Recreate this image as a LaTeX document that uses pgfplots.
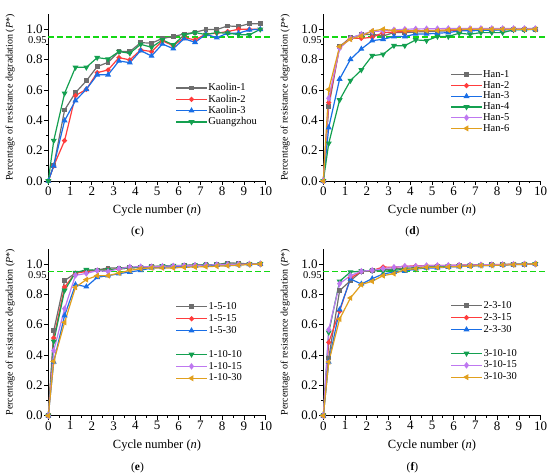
\documentclass[border=0pt]{standalone}
\usepackage{fontspec}
\setmainfont{Liberation Serif}
\usepackage{pgfplots}
\usepackage{pgfplotstable}
\pgfplotsset{compat=1.18}

\definecolor{cgray}{RGB}{110,110,110}
\definecolor{cred}{RGB}{255,60,60}
\definecolor{cblue}{RGB}{25,110,230}
\definecolor{cgreen}{RGB}{20,160,80}
\definecolor{cviolet}{RGB}{190,120,240}
\definecolor{corange}{RGB}{225,160,30}
\definecolor{cdash}{RGB}{20,215,20}

\pgfplotstableread{
x    a     b     c     d
0    0     0     0     0
0.25 0.10  0.10  0.10  0.266
0.75 0.468 0.266 0.398 0.578
1.25 0.582 0.563 0.530 0.749
1.75 0.660 0.604 0.604 0.749
2.25 0.754 0.714 0.700 0.813
2.75 0.782 0.732 0.700 0.804
3.25 0.853 0.813 0.791 0.853
3.75 0.853 0.798 0.780 0.842
4.25 0.912 0.864 0.859 0.901
4.75 0.908 0.853 0.824 0.881
5.25 0.940 0.923 0.903 0.930
5.75 0.952 0.892 0.872 0.897
6.25 0.969 0.945 0.938 0.963
6.75 0.980 0.930 0.914 0.978
7.25 0.998 0.969 0.967 0.965
7.75 0.998 0.974 0.945 0.978
8.25 1.022 0.985 0.974 0.974
8.75 1.018 1.000 0.974 0.965
9.25 1.037 1.000 0.996 0.963
9.75 1.037 1.000 1.000 1.000
}\tabc

\pgfplotstableread{
x    a     b     c     d     e     f
0    0     0     0     0     0     0
0.25 0.490 0.516 0.352 0.248 0.545 0.604
0.75 0.886 0.881 0.672 0.534 0.875 0.886
1.25 0.945 0.940 0.802 0.662 0.940 0.934
1.75 0.963 0.940 0.870 0.732 0.967 0.956
2.25 0.967 0.947 0.925 0.826 0.985 0.989
2.75 0.956 0.978 0.934 0.835 0.989 1.000
3.25 0.978 0.982 0.952 0.892 0.996 0.991
3.75 0.978 0.985 0.952 0.892 1.000 0.991
4.25 0.982 0.990 0.969 0.930 1.002 0.989
4.75 0.985 0.992 0.969 0.925 1.003 0.991
5.25 0.987 0.993 0.974 0.952 1.004 0.991
5.75 0.990 0.995 0.978 0.952 1.005 0.996
6.25 0.993 0.996 0.989 0.974 1.005 1.000
6.75 0.995 0.997 0.990 0.967 1.005 1.000
7.25 0.996 0.998 0.992 0.978 1.005 1.000
7.75 0.997 0.998 0.994 0.978 1.005 1.000
8.25 0.998 0.999 0.996 0.978 1.005 1.000
8.75 0.999 0.999 0.997 0.996 1.005 1.000
9.25 1.000 1.000 0.999 0.996 1.005 1.000
9.75 1.000 1.000 1.000 1.000 1.005 1.000
}\tabd

\pgfplotstableread{
x    a     b     c     d     e     f
0    0     0     0     0     0     0
0.25 0.560 0.512 0.354 0.490 0.429 0.358
0.75 0.890 0.848 0.660 0.826 0.705 0.615
1.25 0.940 0.940 0.864 0.943 0.925 0.846
1.75 0.956 0.950 0.850 0.962 0.938 0.897
2.25 0.960 0.958 0.912 0.958 0.956 0.923
2.75 0.974 0.962 0.923 0.962 0.950 0.923
3.25 0.974 0.967 0.936 0.967 0.969 0.940
3.75 0.978 0.974 0.947 0.974 0.980 0.958
4.25 0.980 0.978 0.958 0.978 0.982 0.969
4.75 0.982 0.982 0.974 0.982 0.982 0.974
5.25 0.985 0.985 0.978 0.987 0.985 0.974
5.75 0.987 0.987 0.982 0.989 0.987 0.974
6.25 0.990 0.990 0.985 0.991 0.989 0.978
6.75 0.992 0.992 0.988 0.993 0.991 0.980
7.25 0.994 0.994 0.990 0.995 0.993 0.982
7.75 0.996 0.995 0.992 0.996 0.995 0.985
8.25 1.007 0.996 0.994 0.997 0.996 0.988
8.75 1.005 0.998 0.996 0.998 0.998 0.992
9.25 1.000 1.000 0.998 0.999 0.999 0.996
9.75 1.000 1.000 1.000 1.000 1.000 1.000
}\tabe

\pgfplotstableread{
x    a     b     c     d     e     f
0    0     0     0     0     0     0
0.25 0.380 0.483 0.354 0.549 0.567 0.354
0.75 0.824 0.688 0.699 0.886 0.870 0.637
1.25 0.890 0.908 0.901 0.947 0.923 0.776
1.75 0.950 0.950 0.868 0.952 0.952 0.864
2.25 0.956 0.956 0.903 0.956 0.958 0.886
2.75 0.962 0.980 0.934 0.952 0.969 0.923
3.25 0.967 0.978 0.947 0.958 0.978 0.936
3.75 0.972 0.985 0.952 0.965 0.985 0.962
4.25 0.976 0.987 0.967 0.967 0.985 0.969
4.75 0.980 0.989 0.974 0.978 0.989 0.978
5.25 0.983 0.990 0.974 0.982 0.990 0.978
5.75 0.986 0.991 0.980 0.985 0.991 0.980
6.25 0.989 0.993 0.983 0.988 0.992 0.983
6.75 0.991 0.994 0.986 0.990 0.993 0.986
7.25 0.993 0.995 0.989 0.992 0.994 0.989
7.75 0.995 0.996 0.991 0.994 0.995 0.991
8.25 0.996 0.997 0.993 0.996 0.996 0.993
8.75 0.998 0.998 0.995 0.998 0.998 0.995
9.25 0.999 0.999 0.998 0.999 0.999 0.998
9.75 1.000 1.000 1.000 1.000 1.000 1.000
}\tabf

\pgfplotsset{
  panel/.style={
    scale only axis, width=217.4pt, height=166.9pt, anchor=south west,
    xmin=0, xmax=10, ymin=0, ymax=1.1,
    axis lines=left, axis line style={-, line width=0.9pt, black},
    xtick={0,1,...,10}, minor x tick num=1,
    ytick={0,0.2,0.4,0.6,0.8,1.0}, minor y tick num=1,
    tick align=outside, major tick length=4pt, minor tick length=2.2pt,
    every tick/.style={black, line width=0.8pt},
    clip=false,
    xlabel={Cycle number (\textit{n})},
    ylabel={Percentage of resistance degradation (\textit{P}*)},
    every axis x label/.style={at={([yshift=-30pt]axis description cs:0.5,0)}, anchor=center, font=\fontsize{12.5}{14}\selectfont},
    every axis y label/.style={at={([xshift=-38pt]axis description cs:0,0.5)}, rotate=90, anchor=center, font=\fontsize{10}{12}\selectfont},
    tick label style={font=\fontsize{13}{15}\selectfont},
    xticklabel style={inner sep=1.5pt},
    yticklabel style={inner sep=1.5pt},
    /pgf/number format/assume math mode=true,
    yticklabel style={/pgf/number format/fixed, /pgf/number format/fixed zerofill, /pgf/number format/precision=1},
    extra y ticks={0.95}, extra y tick labels={0.95},
    extra y tick style={major tick length=0pt, tick label style={font=\fontsize{10.5}{12}\selectfont, yshift=-3.5pt}},
    legend style={anchor=north west, draw=none, fill=none, font=\fontsize{10.5}{12}\selectfont,
      row sep=0pt, nodes={inner sep=0.8pt, text height=7.5pt, text depth=2.2pt}},
    legend cell align=left,
    legend image code/.code={\draw[mark repeat=2, mark phase=2] plot coordinates {(0pt,0pt) (15.5pt,0pt) (31pt,0pt)};},
    every axis plot/.append style={line width=1.2pt},
  },
  s1/.style={color=cgray, mark=square*, mark size=1.8pt, mark options={solid}},
  s2/.style={color=cred, mark=*, mark size=1.9pt, mark options={solid}},
  s3/.style={color=cblue, mark=triangle*, mark size=2.3pt, mark options={solid}},
  s4/.style={color=cgreen, mark=triangle*, mark size=2.3pt, mark options={solid, rotate=180}},
  s5/.style={color=cviolet, mark=diamond*, mark size=2.4pt, mark options={solid}},
  s6/.style={color=corange, mark=triangle*, mark size=2.3pt, mark options={solid, rotate=90}},
  dl/.style={draw=cdash, line width=1.6pt, dash pattern=on 5.5pt off 3.5pt, mark=none, forget plot},
}

\begin{document}
\begin{tikzpicture}
\useasboundingbox (0,0) rectangle (550pt,476pt);

% (c)
\begin{axis}[panel, at={(48.3pt,295pt)}, legend style={at={(axis cs:5.7,0.664)}}]
\addplot[dl] coordinates {(0,0.95) (10.25,0.95)};
\addplot[s1] table[x=x,y=a]{\tabc}; \addlegendentry{Kaolin-1}
\addplot[s2] table[x=x,y=b]{\tabc}; \addlegendentry{Kaolin-2}
\addplot[s3] table[x=x,y=c]{\tabc}; \addlegendentry{Kaolin-3}
\addplot[s4] table[x=x,y=d]{\tabc}; \addlegendentry{Guangzhou}
\end{axis}
\node[font=\fontsize{11.5}{13}\selectfont] at (137.5pt,244pt) {(\textbf{c})};

% (d)
\begin{axis}[panel, at={(323.3pt,295pt)}, legend style={at={(axis cs:5.7,0.749)}, nodes={inner sep=0.5pt}}]
\addplot[dl] coordinates {(0,0.95) (10.25,0.95)};
\addplot[s1] table[x=x,y=a]{\tabd}; \addlegendentry{Han-1}
\addplot[s2] table[x=x,y=b]{\tabd}; \addlegendentry{Han-2}
\addplot[s3] table[x=x,y=c]{\tabd}; \addlegendentry{Han-3}
\addplot[s4] table[x=x,y=d]{\tabd}; \addlegendentry{Han-4}
\addplot[s5] table[x=x,y=e]{\tabd}; \addlegendentry{Han-5}
\addplot[s6] table[x=x,y=f]{\tabd}; \addlegendentry{Han-6}
\end{axis}
\node[font=\fontsize{11.5}{13}\selectfont] at (412.5pt,244pt) {(\textbf{d})};

% (e)
\begin{axis}[panel, at={(48.3pt,60.3pt)}, legend style={at={(axis cs:5.7,0.771)}, nodes={inner sep=1.1pt}}]
\addplot[dl] coordinates {(0,0.95) (10.25,0.95)};
\addplot[s1] table[x=x,y=a]{\tabe}; \addlegendentry{1-5-10}
\addplot[s2] table[x=x,y=b]{\tabe}; \addlegendentry{1-5-15}
\addplot[s3] table[x=x,y=c]{\tabe}; \addlegendentry{1-5-30}
\addlegendimage{empty legend}\addlegendentry{}
\addplot[s4] table[x=x,y=d]{\tabe}; \addlegendentry{1-10-10}
\addplot[s5] table[x=x,y=e]{\tabe}; \addlegendentry{1-10-15}
\addplot[s6] table[x=x,y=f]{\tabe}; \addlegendentry{1-10-30}
\end{axis}
\node[font=\fontsize{11.5}{13}\selectfont] at (137.5pt,8pt) {(\textbf{e})};

% (f)
\begin{axis}[panel, at={(323.3pt,60.3pt)}, legend style={at={(axis cs:5.7,0.778)}, nodes={inner sep=1.1pt}}]
\addplot[dl] coordinates {(0,0.95) (10.25,0.95)};
\addplot[s1] table[x=x,y=a]{\tabf}; \addlegendentry{2-3-10}
\addplot[s2] table[x=x,y=b]{\tabf}; \addlegendentry{2-3-15}
\addplot[s3] table[x=x,y=c]{\tabf}; \addlegendentry{2-3-30}
\addlegendimage{empty legend}\addlegendentry{}
\addplot[s4] table[x=x,y=d]{\tabf}; \addlegendentry{3-10-10}
\addplot[s5] table[x=x,y=e]{\tabf}; \addlegendentry{3-10-15}
\addplot[s6] table[x=x,y=f]{\tabf}; \addlegendentry{3-10-30}
\end{axis}
\node[font=\fontsize{11.5}{13}\selectfont] at (412.5pt,8pt) {(\textbf{f})};

\end{tikzpicture}
\end{document}
